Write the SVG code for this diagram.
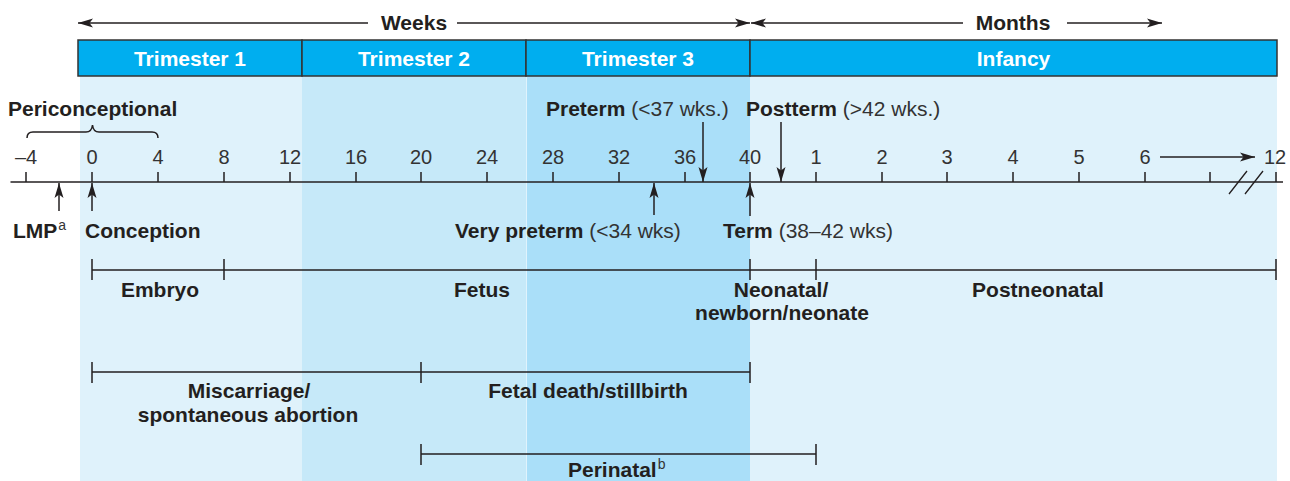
<svg xmlns="http://www.w3.org/2000/svg" width="1290" height="481" viewBox="0 0 1290 481">
<defs>
<marker id="ah" viewBox="-16 -6 17 12" refX="0" refY="0" markerWidth="17" markerHeight="12" markerUnits="userSpaceOnUse" orient="auto"><path d="M0,0 L-15,-4.5 L-11.5,0 L-15,4.5 Z" fill="#231f20"/></marker>
</defs>
<style>
text{font-family:"Liberation Sans",Arial,Helvetica,sans-serif}
.b{font-weight:bold;font-size:21px;fill:#231f20}
.r{font-weight:normal;fill:#333}
.sup{font-weight:normal;font-size:14px;fill:#333}
.t{font-size:20px;fill:#333;text-anchor:middle}
.h{font-weight:bold;font-size:21px;fill:#fff;text-anchor:middle}
.c{text-anchor:middle}
.ln{stroke:#231f20;stroke-width:1.5;fill:none}
.ar{stroke:#231f20;stroke-width:1.5;fill:none;marker-end:url(#ah)}
.bar{fill:#00aeef;stroke:#333;stroke-width:1.5}
</style>

<g id="background">
<rect x="80" y="76" width="222" height="405" fill="#dff2fb"/>
<rect x="302" y="76" width="224" height="405" fill="#c6e9f9"/>
<rect x="526" y="76" width="224" height="405" fill="#aadff9"/>
<rect x="750" y="76" width="527" height="405" fill="#dff2fb"/>
<line x1="526.5" y1="76" x2="526.5" y2="481" stroke="#fff" stroke-width="0.8" stroke-opacity="0.8"/>
</g>

<g id="header">
<g id="trimester1"><rect class="bar" x="78" y="40" width="224" height="36"/><text class="h" x="190" y="66">Trimester 1</text></g>
<g id="trimester2"><rect class="bar" x="302" y="40" width="224" height="36"/><text class="h" x="414" y="66">Trimester 2</text></g>
<g id="trimester3"><rect class="bar" x="526" y="40" width="224" height="36"/><text class="h" x="638" y="66">Trimester 3</text></g>
<g id="infancy"><rect class="bar" x="750" y="40" width="527" height="36"/><text class="h" x="1013.5" y="66">Infancy</text></g>
</g>

<g id="scale-labels">
<text class="b c" x="414" y="30">Weeks</text>
<text class="b c" x="1013" y="30">Months</text>
</g>

<g id="axis">
<line class="ln" x1="10.5" y1="182" x2="1283" y2="182"/>
<path class="ln" d="M26,172V182M92,172V182M158,172V182M224,172V182M290,172V182M356,172V182M421,172V182M487,172V182M553,172V182M619,172V182M685,172V182M750,172V182M816,172V182M882,172V182M947,172V182M1013,172V182M1079,172V182M1145,172V182M1210,172V182M1276,172V182"/>
<path d="M1229,194L1247,171M1245,194L1263,171" stroke="#231f20" stroke-width="1.3" fill="none"/>
<g id="tick-labels">
<text class="t" x="26" y="164">–4</text>
<text class="t" x="92" y="164">0</text>
<text class="t" x="158" y="164">4</text>
<text class="t" x="224" y="164">8</text>
<text class="t" x="290" y="164">12</text>
<text class="t" x="356" y="164">16</text>
<text class="t" x="421" y="164">20</text>
<text class="t" x="487" y="164">24</text>
<text class="t" x="553" y="164">28</text>
<text class="t" x="619" y="164">32</text>
<text class="t" x="685" y="164">36</text>
<text class="t" x="750" y="164">40</text>
<text class="t" x="816" y="164">1</text>
<text class="t" x="882" y="164">2</text>
<text class="t" x="947" y="164">3</text>
<text class="t" x="1013" y="164">4</text>
<text class="t" x="1079" y="164">5</text>
<text class="t" x="1145" y="164">6</text>
<text class="t" x="1275" y="164">12</text>
</g>
</g>

<g id="periconceptional"><text class="b" x="8" y="116">Periconceptional</text></g>
<g id="preterm"><text class="b" x="546" y="116">Preterm <tspan class="r">(&lt;37 wks.)</tspan></text></g>
<g id="postterm"><text class="b" x="746" y="116">Postterm <tspan class="r">(&gt;42 wks.)</tspan></text></g>
<g id="lmp"><text class="b" x="13" y="238">LMP<tspan class="sup" dx="1" dy="-8">a</tspan></text></g>
<g id="conception"><text class="b" x="85" y="238">Conception</text></g>
<g id="very-preterm"><text class="b" x="455" y="238">Very preterm <tspan class="r">(&lt;34 wks)</tspan></text></g>
<g id="term"><text class="b" x="723" y="238">Term <tspan class="r">(38–42 wks)</tspan></text></g>

<g id="stage-intervals">
<path class="ln" d="M92,270H1276M92,259V280M224,259V280M750,259V280M816,259V280M1276,259V280"/>
<g id="embryo"><text class="b c" x="160" y="297">Embryo</text></g>
<g id="fetus"><text class="b c" x="482" y="297">Fetus</text></g>
<g id="neonatal"><text class="b c" x="781" y="297">Neonatal/</text><text class="b c" x="782" y="320">newborn/neonate</text></g>
<g id="postneonatal"><text class="b c" x="1038" y="297">Postneonatal</text></g>
</g>

<g id="loss-intervals">
<path class="ln" d="M92,372H750M92,362V383M421,362V383M750,362V383"/>
<g id="miscarriage"><text class="b c" x="249" y="398">Miscarriage/</text><text class="b c" x="248" y="422">spontaneous abortion</text></g>
<g id="fetal-death"><text class="b c" x="588" y="398">Fetal death/stillbirth</text></g>
</g>

<g id="perinatal-interval">
<path class="ln" d="M421,454H816M421,444V465M816,444V465"/>
<g id="perinatal"><text class="b" x="568" y="477">Perinatal<tspan class="sup" dx="1" dy="-8">b</tspan></text></g>
</g>

<g id="connectors">
<line class="ar" x1="368" y1="23" x2="78" y2="23"/>
<line class="ar" x1="457" y1="23" x2="750" y2="23"/>
<line class="ar" x1="963" y1="23" x2="751" y2="23"/>
<line class="ar" x1="1067" y1="23" x2="1162" y2="23"/>
<line class="ar" x1="1160" y1="157" x2="1255" y2="157"/>
<path class="ln" d="M27,138C27,134 29,132 33,132L86,132C90,132 92,130 92.5,125C93,130 95,132 99,132L152,132C156,132 158,134 158,138"/>
<line class="ar" x1="703" y1="122" x2="703" y2="182"/>
<line class="ar" x1="781" y1="122" x2="781" y2="182"/>
<line class="ar" x1="59" y1="211" x2="59" y2="183"/>
<line class="ar" x1="92" y1="211" x2="92" y2="183"/>
<line class="ar" x1="654" y1="215" x2="654" y2="183"/>
<line class="ar" x1="750" y1="216" x2="750" y2="183"/>
</g>
</svg>
